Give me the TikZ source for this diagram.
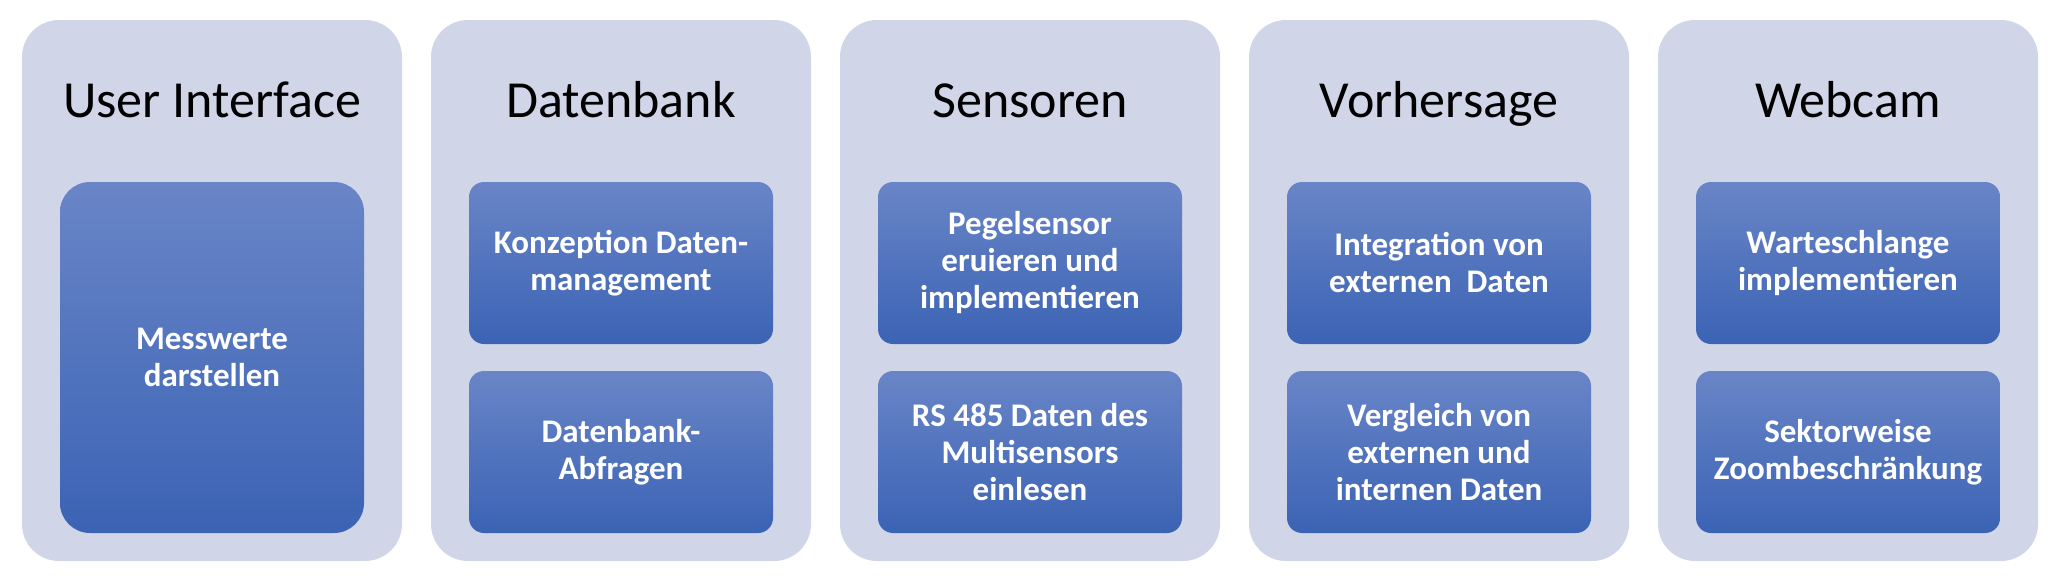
\documentclass[tikz,border=0pt]{standalone}
\usepackage{fontspec}
\setmainfont{Carlito}
\definecolor{lanegray}{RGB}{208,213,232}
\definecolor{tasktop}{RGB}{105,133,199}
\definecolor{taskbottom}{RGB}{59,99,180}

\begin{document}
\begin{tikzpicture}[line cap=round,line join=round,x=0.5pt,y=-0.5pt,
	lane/.style={fill=lanegray,rounded corners=18.5pt,minimum width=190pt,minimum height=270.5pt,inner sep=0pt},
	lanetitle/.style={anchor=base,inner sep=0pt,font=\fontsize{26}{30}\selectfont},
	task/.style={top color=tasktop,bottom color=taskbottom,rounded corners=7.5pt,minimum width=152pt,minimum height=81pt,inner sep=0pt,text=white,align=center,font=\fontsize{16.5}{18.5}\selectfont\bfseries},
	bigtask/.style={task,rounded corners=15pt,minimum height=175.5pt}]
				\useasboundingbox (0,0) rectangle (2064,578);
				% lanes
				\node[lane] (ui) at (212,290.5) {};
				\node[lane] (db) at (621,290.5) {};
				\node[lane] (sens) at (1030,290.5) {};
				\node[lane] (pred) at (1439,290.5) {};
				\node[lane] (cam) at (1848,290.5) {};
				% titles
				\node[lanetitle] (uit) at (212,117) {User Interface};
				\node[lanetitle] (dbt) at (621,117) {Datenbank};
				\node[lanetitle] (senst) at (1030,117) {Sensoren};
				\node[lanetitle] (predt) at (1439,117) {Vorhersage};
				\node[lanetitle] (camt) at (1848,117) {Webcam};
				% tasks
				\node[bigtask] (uia) at (212,357.5) {Messwerte\\darstellen};
				\node[task] (dba) at (621,263) {Konzeption Daten-\\management};
				\node[task] (dbb) at (621,452) {Datenbank-\\Abfragen};
				\node[task] (sensa) at (1030,263) {Pegelsensor\\eruieren und\\implementieren};
				\node[task] (sensb) at (1030,452) {RS 485 Daten des\\Multisensors\\einlesen};
				\node[task] (preda) at (1439,263) {Integration von\\externen\ \ Daten};
				\node[task] (predb) at (1439,452) {Vergleich von\\externen und\\internen Daten};
				\node[task] (cama) at (1848,263) {Warteschlange\\implementieren};
				\node[task] (camb) at (1848,452) {Sektorweise\\Zoombeschränkung};
			\end{tikzpicture}
\end{document}
